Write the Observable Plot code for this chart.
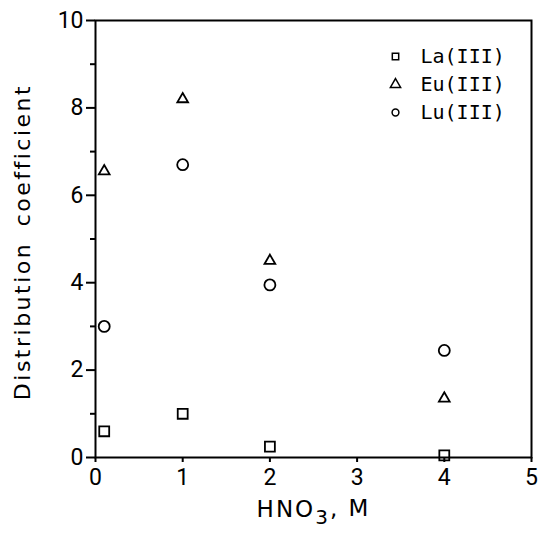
<!DOCTYPE html>
<html><head><meta charset="utf-8">
<script src="https://cdn.jsdelivr.net/npm/d3@7"></script>
<script src="https://cdn.jsdelivr.net/npm/@observablehq/plot@0.6"></script>
<style>body{margin:0;background:#fff}</style>
</head><body><div id="chart"></div>
<script>
const hno3 = [0.1, 1, 2, 4];
const la = [0.6, 1.0, 0.25, 0.05];
const eu = [6.55, 8.2, 4.5, 1.35];
const lu = [3.0, 6.7, 3.95, 2.45];
const seriesNames = ["La(III)", "Eu(III)", "Lu(III)"];
const seriesSymbols = ["square", "triangle", "circle"];
const xTicks = [0, 1, 2, 3, 4, 5];
const yMajor = [0, 2, 4, 6, 8, 10];
const yMinor = [1, 3, 5, 7, 9];
const xLabel = "HNO₃, M";
const yLabel = "Distribution coefficient";

const seriesValues = [la, eu, lu];
const plotR = [5.6, 4.0, 5.5];
const legendR = [3.6, 3.8, 3.4];

const series = seriesValues.map(vals => hno3.map((x, i) => ({x, y: vals[i]})));

const marks = [
  Plot.frame({stroke: "black", strokeWidth: 2}),
  Plot.axisX({ticks: xTicks, tickSize: 5, tickPadding: 6, strokeWidth: 2, label: null, tickFormat: d => d, fontFamily: "Roboto", fontSize: 23}),
  Plot.axisY({ticks: yMajor, tickSize: 9, tickPadding: 3, strokeWidth: 2, label: null, tickFormat: d => d, fontFamily: "Roboto", fontSize: 23}),
  Plot.axisY({ticks: yMinor, tickSize: 5, strokeWidth: 2, label: null, tickFormat: () => ""}),
  Plot.text([yLabel], {frameAnchor: "left", dx: -73, dy: 3, rotate: -90, text: d => d, textAnchor: "middle", lineAnchor: "middle", fontFamily: "DejaVu Sans", fontSize: 22}),
  Plot.text([xLabel], {frameAnchor: "bottom", dy: 52, text: d => d, textAnchor: "middle", lineAnchor: "middle", fontFamily: "DejaVu Sans", fontSize: 23})
];
series.forEach((data, k) => {
  marks.push(Plot.dot(data, {x: "x", y: "y", symbol: seriesSymbols[k], r: plotR[k], stroke: "black", strokeWidth: 1.8, fill: "none"}));
  marks.push(Plot.dot([seriesNames[k]], {frameAnchor: "top-right", dx: -136, dy: 36 + k * 28, symbol: seriesSymbols[k], r: legendR[k], stroke: "black", strokeWidth: 1.5, fill: "none"}));
  marks.push(Plot.text([seriesNames[k]], {frameAnchor: "top-right", dx: -111, dy: 36 + k * 28, text: d => d, textAnchor: "start", lineAnchor: "middle", fontFamily: "DejaVu Sans Mono", fontSize: 20}));
});

const chart = Plot.plot({
  width: 550, height: 534,
  marginLeft: 95, marginRight: 19, marginTop: 20, marginBottom: 77,
  x: {domain: [0, 5]},
  y: {domain: [0, 10]},
  style: {background: "white", color: "black", overflow: "visible"},
  marks
});
document.getElementById("chart").appendChild(chart);

// letter spacing for axis titles, and a real subscript in the x title
d3.select(chart).selectAll("text").each(function() {
  const t = d3.select(this);
  const s = t.text();
  if (s === yLabel) {
    t.attr("letter-spacing", "2.5px").attr("word-spacing", "6px");
  } else if (s === xLabel) {
    t.text(null).attr("letter-spacing", "2px");
    t.append("tspan").text("HNO");
    t.append("tspan").attr("dy", "0.35em").attr("font-size", 20).text("3");
    t.append("tspan").attr("dy", "-0.35em").text(", M");
  }
});
</script>
</body></html>
